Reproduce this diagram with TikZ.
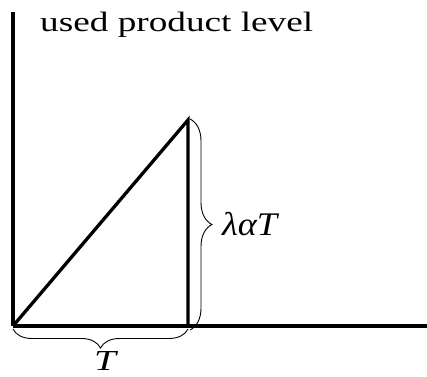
\documentclass[tikz,border=0pt]{standalone}
\usepackage{fontspec}
\setmainfont{Liberation Serif}
\usetikzlibrary{decorations.pathreplacing}
\begin{document}
\begin{tikzpicture}[x=1pt,y=1pt,
  axis/.style={line width=3.3pt},
  tri/.style={line width=3.3pt},
  bracestyle/.style={line width=0.9pt,decorate,decoration={brace,amplitude=#1}},
  lbl/.style={inner sep=0pt}]
\useasboundingbox (0,0) rectangle (427,376);
\coordinate (O) at (13,50);
\coordinate (Ytop) at (13,364);
\coordinate (Xend) at (427,50);
\coordinate (A) at (188,256);
\coordinate (B) at (188,50);
\coordinate (rb1) at (190,257);
\coordinate (rb2) at (190,46);
\coordinate (bb1) at (188,47);
\coordinate (bb2) at (13,47);
\draw[axis] (O) -- (Ytop);
\draw[axis] (O) -- (Xend);
\draw[tri] (O) -- (A) -- (B);
\draw[bracestyle=22pt] (rb1) -- (rb2);
\draw[bracestyle=19pt] (bb1) -- (bb2);
\node[lbl,anchor=base west] (title) at (40,345) {\fontsize{28}{28}\selectfont\scalebox{1.33}[1]{used product level}};
\node[lbl,anchor=base west] (lab) at (222,141) {\fontsize{33}{33}\selectfont\scalebox{1.1}[1]{\itshape λαT}};
\node[lbl,anchor=base] (tl) at (105,6) {\fontsize{29}{29}\selectfont\scalebox{1.35}[1]{\itshape T}};
\end{tikzpicture}
\end{document}
